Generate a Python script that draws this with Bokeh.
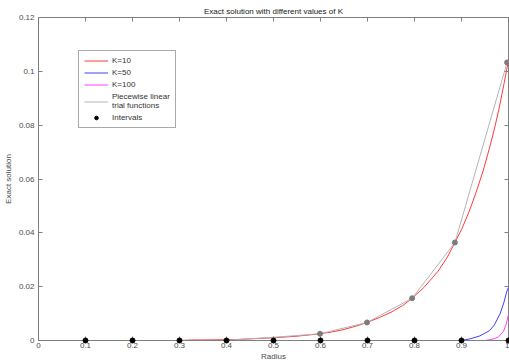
from bokeh.plotting import figure
from bokeh.models import (Range1d, LinearAxis, FixedTicker, CustomJSTickFormatter,
                          Legend, LegendItem)
from bokeh.embed import file_html
from bokeh.resources import INLINE

# ---- data ----
r_k10 = [0.0, 0.1, 0.2, 0.3, 0.326, 0.35, 0.4, 0.41, 0.45, 0.5, 0.55, 0.599, 0.625,
         0.65, 0.675, 0.699, 0.725, 0.75, 0.775, 0.795, 0.82, 0.85, 0.87, 0.886, 0.9,
         0.916, 0.93, 0.946, 0.96, 0.97, 0.98, 0.99, 1.0]
u_k10 = [0.0, 0.0, 0.0, 0.0, 0.0002, 0.0002, 0.0003, 0.0003, 0.0006, 0.0010, 0.0016,
         0.0025, 0.0032, 0.0041, 0.0053, 0.0067, 0.0085, 0.0105, 0.0130, 0.0157,
         0.0197, 0.0257, 0.0310, 0.0364, 0.0412, 0.0478, 0.0545, 0.0630, 0.0718,
         0.0786, 0.0862, 0.0950, 0.1040]

r_k50 = [0.3, 0.9, 0.918, 0.939, 0.96, 0.97, 0.982, 0.99, 0.996, 1.0]
u_k50 = [0.0, 0.0, 0.0006, 0.0017, 0.0037, 0.0058, 0.0099, 0.0140, 0.0180, 0.0198]

r_k100 = [0.65, 0.95, 0.96, 0.97, 0.978, 0.989, 0.995, 1.0]
u_k100 = [0.0, 0.0, 0.0003, 0.0007, 0.0012, 0.0033, 0.0060, 0.0098]

r_lin = [0.41, 0.5, 0.599, 0.699, 0.795, 0.886, 0.997]
u_lin = [0.0002, 0.0012, 0.0025, 0.0067, 0.0157, 0.0364, 0.1033]
r_nodes = [0.599, 0.699, 0.795, 0.886, 0.997]
u_nodes = [0.0025, 0.0067, 0.0157, 0.0364, 0.1033]

r_int = [0.1, 0.2, 0.3, 0.4, 0.5, 0.6, 0.7, 0.8, 0.9, 1.0]
u_int = [0.0] * len(r_int)

x_ticks = [0.0, 0.1, 0.2, 0.3, 0.4, 0.5, 0.6, 0.7, 0.8, 0.9, 1.0]
y_ticks = [0.0, 0.02, 0.04, 0.06, 0.08, 0.10, 0.12]

FONT = "Liberation Sans"
TXT = "#4a4a4a"
AX = "#7f7f7f"

p = figure(width=509, height=363, output_backend="svg", toolbar_location=None,
           x_range=Range1d(0, 1), y_range=Range1d(0, 0.12),
           title="Exact solution with different values of K",
           min_border_left=38, min_border_right=1, min_border_top=17, min_border_bottom=23)

p.title.align = "center"
p.title.text_font = FONT
p.title.text_font_size = "8px"
p.title.text_font_style = "normal"
p.title.text_color = "#222222"
p.title.standoff = 4
p.title.offset = 20

p.xgrid.visible = False
p.ygrid.visible = False
p.outline_line_color = AX
p.outline_line_width = 1
p.background_fill_color = "white"
p.border_fill_color = "white"

fmt = CustomJSTickFormatter(code="return tick.toFixed(2).replace(/0+$/,'').replace(/\\.$/,'');")
blank = CustomJSTickFormatter(code="return '';")

for ax, ticks in ((p.xaxis[0], x_ticks), (p.yaxis[0], y_ticks)):
    ax.ticker = FixedTicker(ticks=ticks)
    ax.formatter = fmt
    ax.major_tick_in = 4
    ax.major_tick_out = 0
    ax.minor_tick_in = 0
    ax.minor_tick_out = 0
    ax.major_tick_line_color = AX
    ax.axis_line_color = AX
    ax.major_label_text_font = FONT
    ax.major_label_text_font_size = "8px"
    ax.major_label_text_color = TXT
    ax.axis_label_text_font = FONT
    ax.axis_label_text_font_size = "8px"
    ax.axis_label_text_font_style = "normal"
    ax.axis_label_text_color = TXT

p.xaxis[0].axis_label = "Radius"
p.xaxis[0].major_label_standoff = 2
p.xaxis[0].axis_label_standoff = 1
p.yaxis[0].axis_label = "Exact solution"
p.yaxis[0].major_label_standoff = 4
p.yaxis[0].axis_label_standoff = 3

top_ax = LinearAxis(ticker=FixedTicker(ticks=x_ticks), formatter=blank,
                    major_tick_in=4, major_tick_out=0,
                    minor_tick_in=0, minor_tick_out=0, major_tick_line_color=AX,
                    axis_line_color=None, major_label_text_font_size="8px",
                    major_label_standoff=0)
right_ax = LinearAxis(ticker=FixedTicker(ticks=y_ticks), formatter=blank,
                      major_tick_in=4, major_tick_out=0,
                      minor_tick_in=0, minor_tick_out=0, major_tick_line_color=AX,
                      axis_line_color=None, major_label_text_font_size="8px",
                      major_label_standoff=0)
p.add_layout(top_ax, "above")
p.add_layout(right_ax, "right")

r10 = p.line(r_k10, u_k10, line_color="#ff3a3a", line_width=1)
r50 = p.line(r_k50, u_k50, line_color="#4040ff", line_width=1)
r100 = p.line(r_k100, u_k100, line_color="#ff40ff", line_width=1)
rlin = p.line(r_lin, u_lin, line_color="#b4b4b4", line_width=1)
p.scatter(r_nodes, u_nodes, size=5, fill_color="#7c7c7c", line_color="#7c7c7c")
rint = p.scatter(r_int, u_int, size=5, fill_color="black", line_color="black", level="overlay")

legend = Legend(items=[
    LegendItem(label="K=10", renderers=[r10]),
    LegendItem(label="K=50", renderers=[r50]),
    LegendItem(label="K=100", renderers=[r100]),
    LegendItem(label="Piecewise linear\ntrial functions", renderers=[rlin]),
    LegendItem(label="Intervals", renderers=[rint]),
], location=(40, 212))
legend.label_text_font = FONT
legend.label_text_font_size = "8px"
legend.label_text_color = "#333333"
legend.label_height = 9
legend.glyph_height = 9
legend.glyph_width = 24
legend.label_standoff = 4
legend.spacing = 3
legend.padding = 5
legend.margin = 0
legend.border_line_color = "#555555"
legend.border_line_width = 1
legend.background_fill_color = "white"
legend.background_fill_alpha = 1
p.add_layout(legend, "center")

open("out.html", "w").write(file_html(p, INLINE))
